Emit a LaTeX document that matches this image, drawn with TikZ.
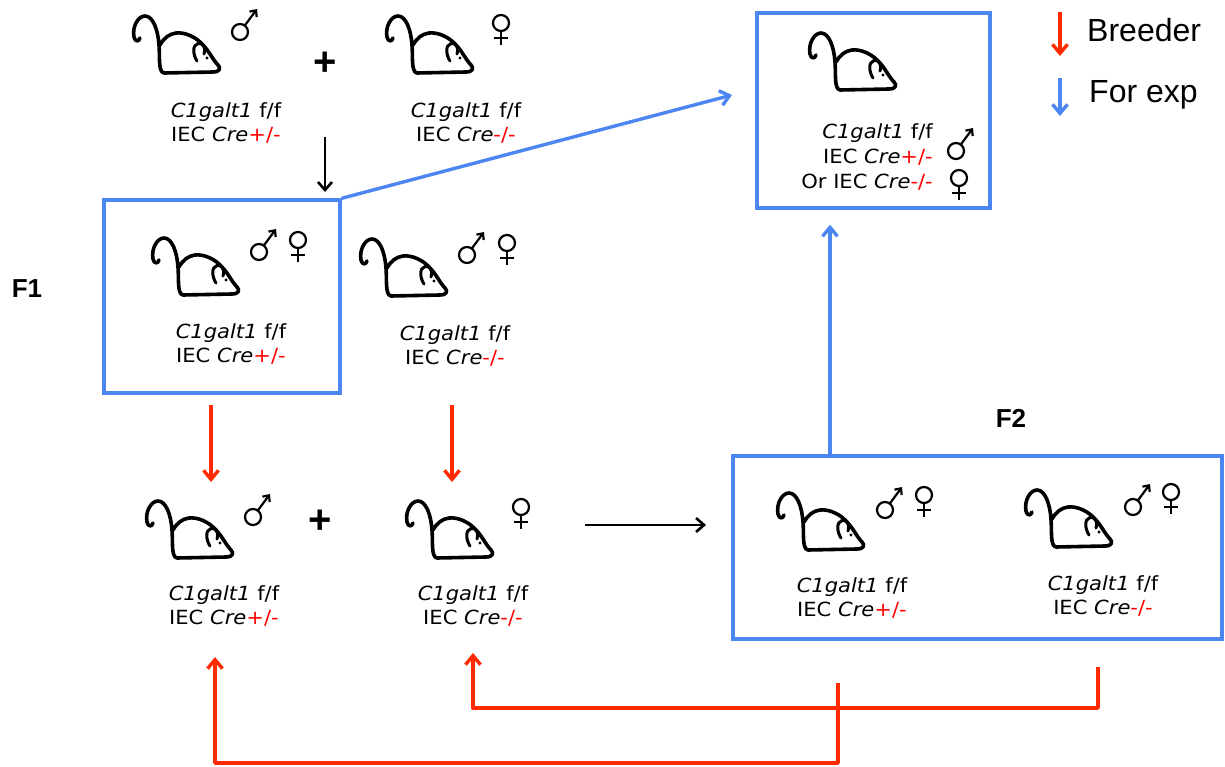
\documentclass[tikz,border=0pt]{standalone}
\usepackage{fontspec}
\setmainfont{Liberation Sans}
\newfontfamily\genofont[FakeStretch=1.08]{DejaVu Sans}
\usetikzlibrary{arrows.meta}
\definecolor{breedred}{HTML}{FF2A00}
\definecolor{expblue}{HTML}{4D86F0}
\definecolor{allelered}{HTML}{FF0000}
\newcommand{\allele}[1]{\textcolor{allelered}{#1}}
\newcommand{\gtype}[1]{\textit{C1galt1} f/f\\IEC \textit{Cre}\allele{#1}}

\tikzset{
  mouse/.pic={
    \draw[line width=3.6pt, line cap=round, line join=round]
      (7,23) .. controls (6,27) and (2,27) .. (1,22)
      .. controls (-1,12) and (5,1) .. (12,1)
      .. controls (20,1) and (25,15) .. (26,30)
      .. controls (27,42) and (25,57) .. (31,58)
      -- (80,57)
      .. controls (87,57) and (88,53) .. (85,50)
      .. controls (80,45) and (76,36) .. (70,30)
      .. controls (63,22) and (52,17) .. (43,18)
      .. controls (36,19) and (31,23) .. (27,30);
    \draw[line width=3pt, line cap=round]
      (64,46) .. controls (60,40) and (59,30) .. (65,28.5)
      .. controls (70,27.5) and (73,32) .. (71,39);
    \fill (74,43) circle (1.7pt);
  },
  male/.pic={
    \draw[line width=2.2pt] (0,0) circle (8pt);
    \draw[line width=2.2pt, -{Straight Barb[length=5pt,width=9pt]}] (-53.5:8) -- (17,-23);
  },
  female/.pic={
    \draw[line width=2.2pt] (0,0) circle (8pt);
    \draw[line width=2.2pt] (0,8) -- (0,22) (-7,15) -- (7,15);
  },
  geno/.style={font=\genofont\fontsize{19.5}{24}\selectfont, align=center, inner sep=0pt},
  genoright/.style={font=\genofont\fontsize{19.5}{25}\selectfont, align=right, inner sep=0pt, anchor=east},
  legend/.style={font=\fontsize{32}{36}\selectfont, inner sep=0pt, anchor=west},
  gen/.style={font=\bfseries\fontsize{26}{28}\selectfont, inner sep=0pt},
  cross/.style={font=\bfseries\fontsize{40}{42}\selectfont, inner sep=0pt},
  bluebox/.style={draw=expblue, line width=3.4pt, inner sep=0pt},
  breed/.style={draw=breedred, line width=3.4pt, line join=round, -{Straight Barb[length=9pt,width=15pt]}},
  forexp/.style={draw=expblue, line width=3.4pt, -{Straight Barb[length=9pt,width=15pt]}},
  blackarrow/.style={draw=black, line width=2.6pt, -{Straight Barb[length=8pt,width=14pt]}}
}

\begin{document}
\begin{tikzpicture}[x=1pt, y=-1pt]
  \fill[white] (0,0) rectangle (1225,767);
  \useasboundingbox (0,0) rectangle (1225,767);

  % boxes
  \node[bluebox, minimum width=236pt, minimum height=193pt] (f1box) at (222,296.5) {};
  \node[bluebox, minimum width=233pt, minimum height=195pt] (expbox) at (873.5,110.5) {};
  \node[bluebox, minimum width=489pt, minimum height=183pt] (f2box) at (977.5,547.5) {};

  % generation labels
  \node[gen] (f1lab) at (27,289) {F1};
  \node[gen] (f2lab) at (1011,418) {F2};

  % parental cross
  \pic (mA) at (133,15) {mouse};
  \pic (sA) at (240,32) {male};
  \node[cross] (plusA) at (325,64) {+};
  \pic (mB) at (386,15) {mouse};
  \pic (sB) at (501,23) {female};
  \node[geno] (tA) at (226,123) {\gtype{+/-}};
  \node[geno] (tB) at (466,123) {\gtype{-/-}};

  % F1 mice
  \pic (mC) at (152,237) {mouse};
  \pic (sC1) at (259,252) {male};
  \pic (sC2) at (298,240) {female};
  \node[geno] (tC) at (231,344) {\gtype{+/-}};
  \pic (mD) at (360,238) {mouse};
  \pic (sD1) at (467,255) {male};
  \pic (sD2) at (507,243) {female};
  \node[geno] (tD) at (455,346) {\gtype{-/-}};

  % experimental mice
  \pic (mE) at (809,32) {mouse};
  \node[genoright] (tE) at (933,157) {\textit{C1galt1} f/f\\IEC \textit{Cre}\allele{+/-}\\Or IEC \textit{Cre}\allele{-/-}};
  \pic (sE1) at (956,151) {male};
  \pic (sE2) at (959,178) {female};

  % F2 mice
  \pic (mF) at (777,492) {mouse};
  \pic (sF1) at (885,510) {male};
  \pic (sF2) at (924,495) {female};
  \node[geno] (tF) at (852,598) {\gtype{+/-}};
  \pic (mG) at (1025,489) {mouse};
  \pic (sG1) at (1133,507) {male};
  \pic (sG2) at (1171,492) {female};
  \node[geno] (tG) at (1103,596) {\gtype{-/-}};

  % breeder cross
  \pic (mH) at (146,500) {mouse};
  \pic (sH) at (253,517) {male};
  \node[cross] (plusB) at (320,522) {+};
  \pic (mI) at (406,500) {mouse};
  \pic (sI) at (521,507) {female};
  \node[geno] (tH) at (224,606) {\gtype{+/-}};
  \node[geno] (tI) at (473,606) {\gtype{-/-}};

  % legend
  \coordinate (lr1) at (1060,12);
  \coordinate (lr2) at (1060,56);
  \coordinate (lb1) at (1060,78);
  \coordinate (lb2) at (1060,116);
  \draw[breed] (lr1) -- (lr2);
  \draw[forexp] (lb1) -- (lb2);
  \node[legend] (legbreed) at (1087,30) {Breeder};
  \node[legend] (legexp) at (1089,95) {For exp};

  % connectors
  \coordinate (crossfoot) at (325,137);
  \coordinate (crosstip) at (325,192);
  \draw[blackarrow] (crossfoot) -- (crosstip);
  \coordinate (exptip) at (732,95);
  \draw[forexp] (f1box.north east) -- (exptip);
  \coordinate (upx) at (830,0);
  \draw[forexp, shorten >=15pt] (f2box.north -| upx) -- (expbox.south -| upx);

  \coordinate (r1s) at (211,405);
  \coordinate (r1e) at (211,482);
  \coordinate (r2s) at (452,405);
  \coordinate (r2e) at (452,482);
  \draw[breed] (r1s) -- (r1e);
  \draw[breed] (r2s) -- (r2e);

  \coordinate (hs) at (585,525);
  \coordinate (he) at (706,525);
  \draw[blackarrow] (hs) -- (he);

  \coordinate (fbA) at (838,683);
  \coordinate (fbAtip) at (215,657);
  \coordinate (fbB) at (1098,667);
  \coordinate (fbBtip) at (473,653);
  \draw[breed] (fbA) -- (838,763) -| (fbAtip);
  \draw[breed] (fbB) -- (1098,708) -| (fbBtip);
\end{tikzpicture}
\end{document}
